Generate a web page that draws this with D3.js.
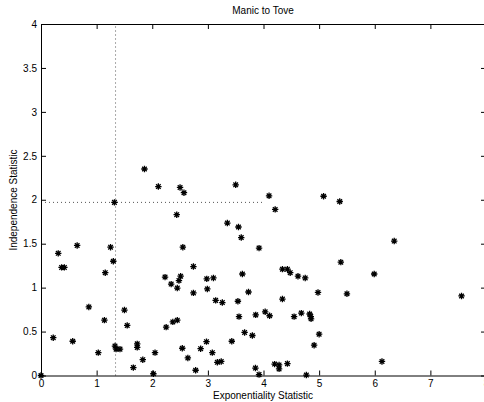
<!DOCTYPE html>
<html>
<head>
<meta charset="utf-8">
<script src="https://cdn.jsdelivr.net/npm/d3@7"></script>
<style>
  body { margin: 0; background: #fff; }
  text { font-family: Helvetica, "Liberation Sans", Arial, sans-serif; }
</style>
</head>
<body>
<svg id="chart" width="484" height="402"></svg>
<script>
// values
const expStat = [1.86, 2.11, 1.32, 0.31, 0.65, 1.25, 1.30, 0.37, 0.42, 1.155,
  0.86, 1.14, 1.50, 1.55, 0.22, 0.57, 1.33, 1.35, 1.42, 1.73,
  1.73, 1.03, 2.05, 1.83, 1.66, 2.02, 0.0, 2.50, 2.57, 3.50,
  4.10, 2.44, 3.35, 3.55, 3.60, 2.55, 3.92, 2.74, 2.23, 2.51,
  2.48, 2.34, 2.45, 2.74, 2.98, 3.10, 2.99, 3.62, 3.73, 3.14,
  3.26, 3.54, 3.86, 4.03, 4.11, 3.56, 2.37, 2.45, 2.25, 3.66,
  3.80, 2.975, 3.43, 2.54, 2.87, 3.08, 2.64, 3.17, 3.24, 2.78,
  3.855, 3.92, 5.08, 5.37, 4.21, 4.34, 4.43, 4.48, 4.62, 4.75,
  5.39, 5.99, 4.98, 5.50, 4.34, 4.55, 4.68, 4.83, 4.85, 4.855,
  5.00, 4.91, 4.20, 4.28, 4.28, 4.43, 4.77, 6.13, 6.35, 7.56]
const indStat = [2.35, 2.15, 1.97, 1.39, 1.48, 1.46, 1.30, 1.23, 1.23, 1.17,
  0.78, 0.63, 0.745, 0.57, 0.43, 0.39, 0.335, 0.30, 0.30, 0.36,
  0.32, 0.26, 0.26, 0.18, 0.09, 0.02, 0.0, 2.14, 2.08, 2.17,
  2.045, 1.83, 1.735, 1.69, 1.57, 1.46, 1.45, 1.24, 1.12, 1.13,
  1.08, 1.04, 0.995, 0.94, 1.10, 1.11, 0.985, 1.155, 0.95, 0.855,
  0.83, 0.845, 0.69, 0.725, 0.68, 0.67, 0.61, 0.63, 0.55, 0.49,
  0.455, 0.385, 0.39, 0.31, 0.305, 0.26, 0.20, 0.15, 0.16, 0.06,
  0.085, 0.01, 2.04, 1.98, 1.89, 1.21, 1.21, 1.17, 1.13, 1.11,
  1.29, 1.155, 0.945, 0.93, 0.87, 0.67, 0.71, 0.70, 0.67, 0.645,
  0.47, 0.345, 0.13, 0.12, 0.075, 0.135, 0.005, 0.16, 1.53, 0.905]
const xTicks = [0, 1, 2, 3, 4, 5, 6, 7, 8]
const yTicks = [0, 0.5, 1, 1.5, 2, 2.5, 3, 3.5, 4]
const cutX = 1.34   // dotted threshold lines
const cutY = 1.97
const cutYEnd = 4.0

const svg = d3.select('#chart')
const plotL = 41, plotR = 486, plotT = 24, plotB = 375.5

let xScale = d3.scaleLinear().domain([0, 8]).range([plotL, plotR])
let yScale = d3.scaleLinear().domain([0, 4]).range([plotB, plotT])

// dotted guide lines
svg.append('line')
  .attr('x1', xScale(cutX)).attr('x2', xScale(cutX))
  .attr('y1', yScale(0)).attr('y2', yScale(4))
  .attr('stroke', '#555').attr('stroke-dasharray', '1,3')
svg.append('line')
  .attr('x1', xScale(0)).attr('x2', xScale(cutYEnd))
  .attr('y1', yScale(cutY)).attr('y2', yScale(cutY))
  .attr('stroke', '#555').attr('stroke-dasharray', '1,3')

// axes, ticks inside the box
let xAxis = d3.axisBottom(xScale).tickValues(xTicks).tickSizeInner(-5).tickSizeOuter(0).tickPadding(4)
let yAxis = d3.axisLeft(yScale).tickValues(yTicks).tickSizeInner(-5).tickSizeOuter(0).tickPadding(4)
  .tickFormat(d3.format('~g'))
let xTop = d3.axisTop(xScale).tickValues(xTicks).tickSizeInner(-5).tickSizeOuter(0).tickFormat('')
let yRight = d3.axisRight(yScale).tickValues(yTicks).tickSizeInner(-5).tickSizeOuter(0).tickFormat('')

svg.append('g').attr('transform', `translate(0,${plotB})`).call(xAxis)
svg.append('g').attr('transform', `translate(${plotL},0)`).call(yAxis)
svg.append('g').attr('transform', `translate(0,${plotT})`).call(xTop)
svg.append('g').attr('transform', `translate(${plotR},0)`).call(yRight)

svg.selectAll('.domain').attr('stroke', '#000')
svg.selectAll('.tick line').attr('stroke', '#000')
svg.selectAll('.tick text').attr('font-size', 10).attr('fill', '#000')

// asterisk markers
const r = 3.2, d = r * 0.72
const star = `M${-r},0H${r}M0,${-r}V${r}M${-d},${-d}L${d},${d}M${-d},${d}L${d},${-d}`
svg.append('g').selectAll('path').data(expStat).enter()
  .append('path')
  .attr('d', star)
  .attr('transform', (v, i) => `translate(${xScale(v)},${yScale(indStat[i])})`)
  .attr('stroke', '#000')
  .attr('stroke-width', 1.3)
  .attr('fill', 'none')

// texts
svg.append('text').attr('x', 263).attr('y', 14).attr('text-anchor', 'middle')
  .attr('font-size', 10).text('Manic to Tove')
svg.append('text').attr('x', 263).attr('y', 399).attr('text-anchor', 'middle')
  .attr('font-size', 10).text('Exponentiality Statistic')
svg.append('text').attr('transform', 'translate(17,200) rotate(-90)').attr('text-anchor', 'middle')
  .attr('font-size', 10).text('Independence Statistic')
</script>
</body>
</html>
